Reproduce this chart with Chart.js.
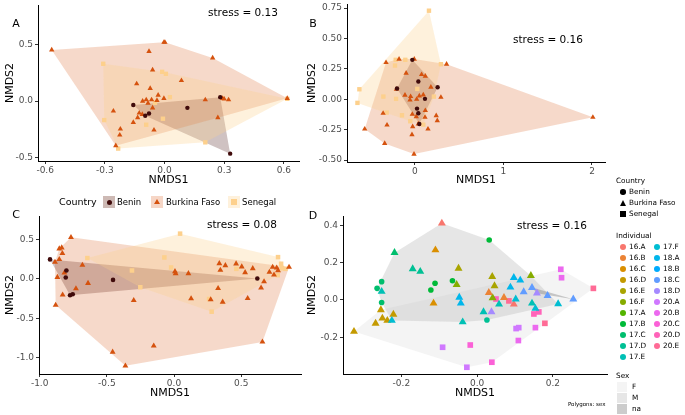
<!DOCTYPE html>
<html lang="en">
<head>
<meta charset="UTF-8">
<script src="https://cdn.jsdelivr.net/npm/chart.js"></script>
<title>NMDS</title>
<style>
  body { margin: 0; background: #fff; font-family: 'DejaVu Sans', sans-serif; }
  #fig { position: relative; width: 685px; height: 415px; overflow: hidden; }
  #fig canvas { position: absolute; }
  .t { position: absolute; white-space: nowrap; line-height: 1; color: #000; transform: translateY(-50%); }
  .c { transform: translate(-50%, -50%); }
  .mk { position: absolute; }
</style>
</head>
<body>
<div id="fig">
  <canvas id="pA" width="310" height="198" style="left:0;top:-6px"></canvas>
  <canvas id="pB" width="312" height="198" style="left:300px;top:-6px"></canvas>
  <canvas id="pC" width="310" height="199" style="left:0;top:206px"></canvas>
  <canvas id="pD" width="312" height="199" style="left:300px;top:206px"></canvas>
</div>
<script>
// ---- data (NMDS scores) ----
const countries = ['Benin', 'Burkina Faso', 'Senegal'];

const aBenin = [[-0.157,-0.035],[-0.097,-0.13],[-0.078,-0.11],[0.115,-0.06],[0.28,0.035],[0.33,-0.465]];
const aBurkina = [[-0.567,0.453],[-0.003,0.52],[0.002,0.52],[-0.078,0.44],[0.242,0.382],[-0.06,0.276],[0.085,0.182],[-0.14,0.153],[-0.072,0.112],[-0.032,0.053],[-0.003,0.024],[-0.11,0.0],[-0.092,0.012],[-0.065,0.012],[-0.038,0.006],[-0.06,-0.06],[-0.083,-0.018],[-0.127,-0.106],[-0.112,-0.118],[-0.135,-0.147],[-0.157,-0.188],[-0.053,-0.256],[-0.257,-0.088],[-0.222,-0.247],[-0.225,-0.3],[-0.245,-0.394],[0.205,0.012],[0.292,0.024],[0.3,0.018],[0.322,0.012],[0.268,-0.147],[0.617,0.024]];
const aSenegal = [[-0.308,0.33],[-0.012,0.259],[0.007,0.241],[0.027,0.035],[-0.048,-0.015],[-0.008,-0.156],[-0.092,-0.209],[-0.303,-0.168],[-0.233,-0.42],[0.205,-0.365],[0.617,0.02]];

const bBenin = [[-0.03,0.324],[0.038,0.146],[-0.203,0.088],[0.256,0.099],[0.113,0.003],[0.023,-0.077],[0.038,-0.115],[0.049,-0.203]];
const bBurkina = [[-0.327,0.302],[-0.18,0.33],[-0.008,0.33],[0.357,0.288],[-0.1,0.214],[0.075,0.203],[0.117,0.19],[-0.21,0.082],[0.18,0.099],[-0.113,0.033],[-0.049,0.022],[0.049,0.027],[0.094,0.036],[-0.056,-0.005],[0.019,0.0],[0.293,0.016],[0.117,-0.093],[-0.03,-0.124],[0.015,-0.143],[0.113,-0.148],[0.24,-0.135],[0.252,-0.176],[-0.36,-0.115],[-0.316,-0.212],[-0.568,-0.245],[-0.342,-0.363],[-0.026,-0.225],[-0.034,-0.291],[0.038,-0.203],[0.147,-0.245],[-0.011,-0.451],[2.01,-0.148]];
const bSenegal = [[0.158,0.728],[-0.628,0.082],[-0.65,-0.03],[-0.218,0.324],[-0.109,0.324],[-0.226,0.277],[0.293,0.288],[-0.357,0.022],[-0.214,0.003],[0.026,0.085],[0.214,0.022],[-0.32,-0.11],[-0.147,-0.132],[-0.053,-0.181],[0.094,-0.209]];

const cBenin = [[-0.923,0.246],[-0.801,0.106],[-0.806,0.017],[-0.774,-0.208],[-0.754,-0.195],[-0.454,-0.013],[0.62,0.004]];
const cBurkina = [[-0.767,0.525],[-0.854,0.381],[-0.836,0.394],[-0.831,0.322],[-0.854,0.246],[-0.886,0.212],[-0.816,0.076],[-0.868,0.021],[-0.829,-0.203],[-0.881,-0.331],[-0.682,0.174],[-0.73,-0.123],[-0.64,-0.055],[-0.3,-0.271],[-0.457,-0.924],[-0.362,-1.1],[-0.151,-0.847],[0.007,0.093],[0.012,0.068],[0.107,0.068],[0.127,-0.25],[0.337,0.195],[0.345,0.11],[0.382,0.169],[0.328,-0.119],[0.362,-0.292],[0.273,-0.263],[0.462,0.191],[0.504,0.153],[0.529,0.081],[0.586,0.131],[0.548,-0.246],[0.648,-0.114],[0.67,-0.034],[0.658,-0.797],[0.71,0.085],[0.734,0.148],[0.764,0.14],[0.774,0.106],[0.744,0.051],[0.856,0.148]];
const cSenegal = [[0.045,0.572],[-0.645,0.263],[-0.313,0.106],[-0.251,-0.106],[-0.072,0.271],[-0.022,0.144],[0.464,0.127],[0.261,-0.254],[0.28,-0.415],[0.774,0.275],[0.797,0.191],[0.804,0.136],[0.829,0.127],[0.772,0.047]];

// panel D: [NMDS1, NMDS2, individual, sex]
const individuals = ['16.A','16.B','16.C','16.D','16.E','16.F','17.A','17.B','17.C','17.D','17.E','17.F','18.A','18.B','18.C','18.D','20.A','20.B','20.C','20.D','20.E'];
const sexes = ['F', 'M', 'na'];
const dBenin = [[0.032,0.321,'17.B','M'],[-0.252,0.098,'17.C','M'],[-0.264,0.062,'17.C','M'],[-0.252,-0.014,'17.C','M'],[-0.111,0.089,'17.B','M'],[-0.122,0.053,'17.B','M'],[-0.065,0.103,'17.B','M'],[0.026,-0.107,'17.D','M']];
const dBurkina = [[-0.093,0.41,'16.A','M'],[-0.11,0.267,'16.C','M'],[-0.218,0.253,'17.C','M'],[-0.17,0.166,'17.D','M'],[-0.15,0.152,'17.D','M'],[-0.049,0.169,'16.E','M'],[0.04,0.125,'16.E','M'],[0.046,0.075,'16.E','M'],[0.041,0.011,'16.F','M'],[-0.054,0.082,'16.F','M'],[0.142,0.13,'16.F','M'],[-0.252,0.045,'17.E','M'],[-0.115,-0.018,'16.C','M'],[-0.254,-0.053,'16.D','F'],[-0.25,-0.098,'16.D','F'],[-0.268,-0.125,'16.D','F'],[-0.237,-0.11,'16.D','F'],[-0.221,-0.077,'16.D','F'],[-0.325,-0.169,'16.D','F'],[-0.225,-0.11,'17.F','M'],[-0.047,0.014,'18.A','M'],[-0.043,-0.018,'18.A','M'],[-0.038,-0.118,'17.E','M'],[0.017,-0.064,'17.E','M'],[0.038,-0.064,'18.D','M'],[0.031,0.039,'16.B','M'],[0.071,0.012,'16.B','M'],[0.097,-0.023,'16.A','M'],[0.058,-0.023,'17.E','M'],[0.088,0.068,'18.A','M'],[0.097,0.119,'18.A','M'],[0.114,0.105,'18.A','M'],[0.102,0.004,'17.F','M'],[0.123,0.043,'18.C','M'],[0.145,0.066,'18.C','na'],[0.158,0.036,'18.D','na'],[0.186,0.023,'18.C','M'],[0.145,-0.018,'17.E','M'],[0.154,-0.046,'17.F','M'],[0.214,-0.021,'17.F','M'],[0.254,0.004,'18.C','na']];
const dSenegal = [[-0.091,-0.253,'20.A','F'],[-0.027,-0.36,'20.A','F'],[-0.018,-0.241,'20.C','F'],[0.039,-0.333,'20.C','F'],[0.109,-0.217,'20.B','F'],[0.103,-0.153,'20.A','F'],[0.11,-0.148,'20.A','F'],[0.154,-0.148,'20.B','F'],[0.179,-0.125,'20.E','F'],[0.15,-0.075,'20.D','F'],[0.163,-0.064,'20.D','F'],[0.221,0.164,'20.B','F'],[0.223,0.119,'20.B','F'],[0.307,0.062,'20.E','F'],[0.05,0.005,'20.D','F'],[0.084,-0.005,'20.E','F']];

const aTicksX = [-0.6, -0.3, 0, 0.3, 0.6], aTicksY = [-0.5, 0, 0.5];
const bTicksX = [0, 1, 2], bTicksY = [-0.5, -0.25, 0, 0.25, 0.5, 0.75];
const cTicksX = [-1, -0.5, 0, 0.5], cTicksY = [-1, -0.5, 0, 0.5];
const dTicksX = [-0.2, 0, 0.2], dTicksY = [-0.2, 0, 0.2, 0.4];
const stress = ['0.13', '0.16', '0.08', '0.16'];

// ---- styles ----
const ptCol = { 'Benin': '#400b0b', 'Burkina Faso': '#d5520e', 'Senegal': '#fdd08c' };
const polyCol = { 'Benin': 'rgba(64,11,11,0.25)', 'Burkina Faso': 'rgba(213,82,14,0.22)', 'Senegal': 'rgba(253,208,140,0.3)' };
const shape = { 'Benin': 'circle', 'Burkina Faso': 'triangle', 'Senegal': 'rect' };
const sexFill = { 'F': 'rgba(228,228,228,0.4)', 'M': 'rgba(192,192,192,0.4)', 'na': 'rgba(128,128,128,0.4)' };
const sexKey = { 'F': '#f4f4f4', 'M': '#e6e6e6', 'na': '#cccccc' };

// ggplot-like hue palette
function hcl(h, c, l) {
  const hr = h * Math.PI / 180;
  const u = c * Math.cos(hr), v = c * Math.sin(hr);
  const Y = l > 8 ? Math.pow((l + 16) / 116, 3) : l / 903.3;
  const up = u / (13 * l) + 0.1978398, vp = v / (13 * l) + 0.4683363;
  const X = 9 * Y * up / (4 * vp);
  const Z = -X / 3 - 5 * Y + 3 * Y / vp;
  const lin = [3.240479 * X - 1.53715 * Y - 0.498535 * Z,
               -0.969256 * X + 1.875992 * Y + 0.041556 * Z,
               0.055648 * X - 0.204043 * Y + 1.057311 * Z];
  const g = t => t <= 0.0031308 ? 12.92 * t : 1.055 * Math.pow(t, 1 / 2.4) - 0.055;
  return 'rgb(' + lin.map(t => Math.round(255 * Math.min(1, Math.max(0, g(t))))).join(',') + ')';
}
const indCol = {};
individuals.forEach((n, i) => { indCol[n] = hcl(15 + 360 * i / individuals.length, 100, 65); });

// convex hull (monotone chain), returned closed
function hull(pts) {
  const p = pts.map(q => ({ x: q[0], y: q[1] })).sort((a, b) => a.x - b.x || a.y - b.y);
  const cross = (o, a, b) => (a.x - o.x) * (b.y - o.y) - (a.y - o.y) * (b.x - o.x);
  const lo = [], up = [];
  for (const q of p) { while (lo.length >= 2 && cross(lo[lo.length - 2], lo[lo.length - 1], q) <= 0) lo.pop(); lo.push(q); }
  for (let i = p.length - 1; i >= 0; i--) { const q = p[i]; while (up.length >= 2 && cross(up[up.length - 2], up[up.length - 1], q) <= 0) up.pop(); up.push(q); }
  const h = lo.slice(0, -1).concat(up.slice(0, -1));
  h.push(h[0]);
  return h;
}

function polyDs(pts, color) {
  return { data: hull(pts), showLine: true, fill: 'shape', backgroundColor: color, borderColor: 'rgba(0,0,0,0)', borderWidth: 0, pointRadius: 0, tension: 0 };
}
function pointDs(pts, colors, shp, r) {
  return { data: pts.map(q => ({ x: q[0], y: q[1] })), pointStyle: shp, pointRadius: r, pointBackgroundColor: colors, pointBorderWidth: 0, borderWidth: 0 };
}

function axisOpts(min, max, vals, dec, title, size, horiz, pad) {
  return {
    type: 'linear', min: min, max: max,
    afterFit: s => { if (horiz) s.height = size; else s.width = size; },
    afterBuildTicks: s => { s.ticks = vals.map(v => ({ value: v })); },
    ticks: { color: '#4d4d4d', font: { family: 'DejaVu Sans', size: 9 }, padding: horiz ? 1 : 2, maxRotation: 0, autoSkip: false,
      callback: v => Number(v).toFixed(dec) },
    grid: { display: true, drawOnChartArea: false, drawTicks: true, tickLength: 3, color: '#333' },
    border: { display: true, color: '#000', width: 1 },
    title: { display: true, text: title, color: '#000', font: { family: 'DejaVu Sans', size: 11 },
      padding: horiz ? { top: 0, bottom: pad } : { top: pad, bottom: 0 } }
  };
}

function panel(id, datasets, x, y, pad) {
  new Chart(document.getElementById(id), {
    type: 'scatter',
    data: { datasets: datasets },
    options: {
      responsive: false, animation: false, events: [],
      layout: { padding: pad },
      plugins: { legend: { display: false }, tooltip: { enabled: false } },
      scales: { x: x, y: y }
    }
  });
}

function countryPanel(id, sets, rA, xr, yr, xt, yt, dx, dy, ySize, pad, yTitlePad) {
  const ds = [];
  sets.forEach((s, i) => ds.push(pointDs(s, ptCol[countries[i]], shape[countries[i]], rA[i])));
  for (let i = sets.length - 1; i >= 0; i--) ds.push(polyDs(sets[i], polyCol[countries[i]]));
  panel(id, ds,
    axisOpts(xr[0], xr[1], xt, dx, 'NMDS1', pad.xh, true, 5.4),
    axisOpts(yr[0], yr[1], yt, dy, 'NMDS2', ySize, false, yTitlePad),
    { left: 0, right: pad.right, top: pad.top, bottom: 0 });
}

const rAB = [2.2, 3.1, 3.1];
countryPanel('pA', [aBenin, aBurkina, aSenegal], rAB, [-0.636, 0.676], [-0.53, 0.85], aTicksX, aTicksY, 1, 1, 38, { right: 11, top: 11, xh: 31 }, 4);
countryPanel('pB', [bBenin, bBurkina, bSenegal], rAB, [-0.768, 2.147], [-0.516, 0.783], bTicksX, bTicksY, 0, 2, 47, { right: 7, top: 10, xh: 30 }, 5.4);
countryPanel('pC', [cBenin, cBurkina, cSenegal], [2.3, 3.4, 3.2], [-1.005, 0.945], [-1.203, 0.795], cTicksX, cTicksY, 1, 1, 39, { right: 9, top: 10, xh: 31 }, 3.5);

// panel D
(function () {
  const ds = [];
  const groups = [[dBenin, 'circle', 2.8], [dBurkina, 'triangle', 4.6], [dSenegal, 'rect', 4]];
  groups.forEach(g => ds.push(pointDs(g[0], g[0].map(q => indCol[q[2]]), g[1], g[2])));
  const all = dBenin.concat(dBurkina, dSenegal);
  for (let i = sexes.length - 1; i >= 0; i--) {
    const pts = all.filter(q => q[3] === sexes[i]);
    ds.push(polyDs(pts, sexFill[sexes[i]]));
  }
  panel('pD', ds,
    axisOpts(-0.354, 0.343, dTicksX, 1, 'NMDS1', 31, true, 5.4),
    axisOpts(-0.396, 0.449, dTicksY, 1, 'NMDS2', 43, false, 5.4),
    { left: 0, right: 5, top: 10, bottom: 0 });
})();

// ---- annotations & legends (HTML text) ----
const fig = document.getElementById('fig');
function txt(s, x, y, size, center, color) {
  const d = document.createElement('div');
  d.className = 't' + (center ? ' c' : '');
  d.textContent = s;
  d.style.left = x + 'px'; d.style.top = y + 'px';
  d.style.fontSize = size + 'px';
  if (color) d.style.color = color;
  fig.appendChild(d);
}
function marker(shp, cx, cy, sz, color) {
  const d = document.createElement('div');
  d.className = 'mk';
  if (shp === 'triangle') {
    d.style.width = '0'; d.style.height = '0';
    d.style.borderLeft = (sz / 2) + 'px solid transparent';
    d.style.borderRight = (sz / 2) + 'px solid transparent';
    d.style.borderBottom = (sz * 0.87) + 'px solid ' + color;
    d.style.left = (cx - sz / 2) + 'px'; d.style.top = (cy - sz * 0.5) + 'px';
  } else {
    d.style.width = sz + 'px'; d.style.height = sz + 'px';
    d.style.background = color;
    if (shp === 'circle') d.style.borderRadius = '50%';
    d.style.left = (cx - sz / 2) + 'px'; d.style.top = (cy - sz / 2) + 'px';
  }
  fig.appendChild(d);
}
function box(x, y, w, h, color) {
  const d = document.createElement('div');
  d.className = 'mk';
  d.style.left = x + 'px'; d.style.top = y + 'px';
  d.style.width = w + 'px'; d.style.height = h + 'px';
  d.style.background = color;
  fig.appendChild(d);
}

txt('A', 16, 23, 11, true); txt('B', 313, 23, 11, true);
txt('C', 16, 214, 11, true); txt('D', 313, 215, 11, true);
txt('stress = ' + stress[0], 243, 12, 10.5, true);
txt('stress = ' + stress[1], 548, 39, 10.5, true);
txt('stress = ' + stress[2], 242, 224, 10.5, true);
txt('stress = ' + stress[3], 552, 225, 10.5, true);

// top legend (Country)
txt('Country', 59, 202, 9.5);
const topKeys = [[103, 117], [151, 166], [228, 242]];
const keyBg = { 'Benin': '#cdb9b4', 'Burkina Faso': '#f6d6c6', 'Senegal': '#fef1dc' };
countries.forEach((c, i) => {
  box(topKeys[i][0], 196, 12, 12, keyBg[c]);
  marker(shape[c], topKeys[i][0] + 6, 202, c === 'Benin' ? 5 : 6, ptCol[c]);
  txt(c, topKeys[i][1], 202, 8.5);
});

// right legend
const lf = 7.3;
txt('Country', 616, 181, lf);
countries.forEach((c, i) => {
  marker(shape[c], 623, 192 + 11 * i, c === 'Burkina Faso' ? 7 : 5.5, '#000');
  txt(c, 629, 192 + 11 * i, lf);
});
txt('Individual', 616, 236, lf);
individuals.forEach((n, i) => {
  const col = i < 11 ? 0 : 1, row = i < 11 ? i : i - 11;
  const cy = 247 + 10.95 * row;
  marker('circle', 623 + 34 * col, cy, 6, indCol[n]);
  txt(n, 629 + 34 * col, cy, lf);
});
txt('Sex', 616, 376, lf);
sexes.forEach((s, i) => {
  box(617, 381.5 + 11 * i, 10, 10, sexKey[s]);
  txt(s, 632, 386.5 + 11 * i, lf);
});
txt('Polygons: sex', 568, 405, 5.5);
</script>
</body>
</html>
